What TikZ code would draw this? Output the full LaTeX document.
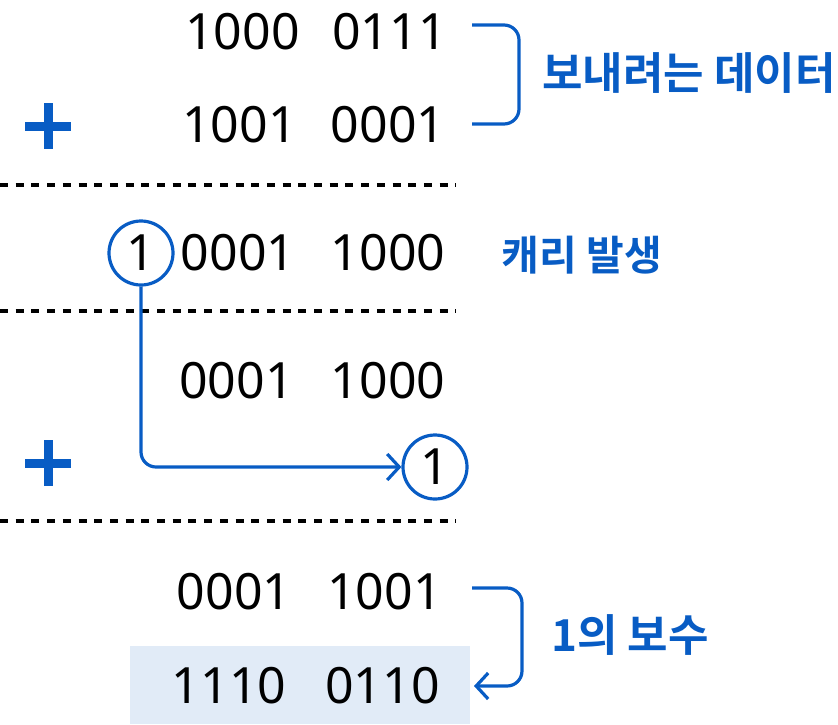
\documentclass[tikz,border=0pt]{standalone}
\usepackage{fontspec}
\setmainfont{Noto Sans}
\newfontfamily\kofont{Noto Sans CJK KR}[BoldFont={* Bold}]
\usetikzlibrary{arrows.meta}
\definecolor{myblue}{RGB}{8,92,196}
\definecolor{hlblue}{RGB}{225,235,247}
\begin{document}
\begin{tikzpicture}[x=1pt,y=-1pt,
  num/.style={inner sep=0pt,font=\fontsize{50}{50}\selectfont,text=black},
  lbl/.style={inner sep=0pt,font=\kofont\bfseries\fontsize{44}{44}\selectfont,text=myblue},
  sep/.style={line width=3.8pt,dash pattern=on 8pt off 7.7pt},
  conn/.style={draw=myblue,line width=3.2pt,rounded corners=15pt},
  circ/.style={circle,draw=myblue,line width=3.2pt,minimum size=64pt,inner sep=0pt,font=\fontsize{50}{50}\selectfont},
  plus/.style={line width=9pt,myblue}]
\useasboundingbox (0,0) rectangle (838,724);
% highlight
\fill[hlblue] (130,646) rectangle (470,724);
% rows
\node[num] (r1a) at (242.5,32) {1000};
\node[num] (r1b) at (389.5,32) {0111};
\node[num] (r2a) at (239.5,125) {1001};
\node[num] (r2b) at (388,125) {0001};
\node[circ] (c1) at (141,253) {1};
\node[num] (r3a) at (238,253) {0001};
\node[num] (r3b) at (388,253) {1000};
\node[num] (r4a) at (236.5,381) {0001};
\node[num] (r4b) at (388,381) {1000};
\node[circ] (c2) at (435,467) {1};
\node[num] (r6a) at (234,592) {0001};
\node[num] (r6b) at (384.5,592) {1001};
\node[num] (r7a) at (229,686) {1110};
\node[num] (r7b) at (382.5,686) {0110};
% plus signs
\draw[plus] (25,126) -- (71,126) (48,103) -- (48,149);
\draw[plus] (25,463) -- (71,463) (48,440) -- (48,486);
% separators
\draw[sep] (0,185) -- (456,185);
\draw[sep] (0,311) -- (456,311);
\draw[sep] (0,521) -- (456,521);
% braces
\coordinate (b1s) at (472,25);
\coordinate (b1e) at (472,124);
\draw[conn] (b1s) -- (519,25) -- (519,124) -- (b1e);
\node[lbl] (l1) at (689,73) {보내려는 데이터};
\node[lbl,font=\kofont\bfseries\fontsize{41}{41}\selectfont] (l2) at (582,255) {캐리 발생};
% carry arrow
\draw[conn,-{Straight Barb[length=12pt,width=26pt,line width=3.2pt]}] (c1.south) |- (c2.west);
% bottom brace
\coordinate (b2s) at (472,588);
\coordinate (b2e) at (474,686);
\draw[conn,-{Straight Barb[length=12pt,width=26pt,line width=3.2pt]}] (b2s) -- (522,588) -- (522,686) -- (b2e);
\node[lbl] (l3) at (630,635) {1의 보수};
\end{tikzpicture}
\end{document}
